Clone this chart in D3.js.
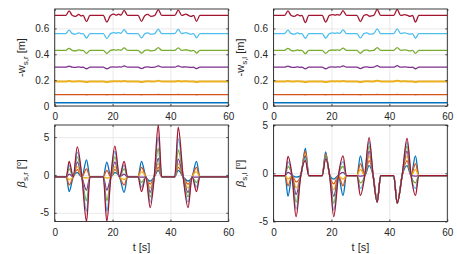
<!DOCTYPE html>
<html>
<head>
<meta charset="utf-8">
<script src="https://cdn.jsdelivr.net/npm/d3@7"></script>
<style>
body { margin: 0; background: #fff; }
text { font-family: "Liberation Sans", Arial, Helvetica, sans-serif; fill: #262626; }
</style>
</head>
<body>
<svg width="457" height="254"></svg>
<script>
// time knots (s) for the deflection panels
var tW = [0, 3.8, 5, 6, 7.2, 8.3, 9.2, 9.8, 11, 12.2, 16.8, 18, 19.3, 20.5, 21.3, 22, 22.9, 24, 25.2, 28.8,
          30, 31.2, 32.2, 33.2, 34.6, 35.8, 37, 41.5, 42.7, 43.9, 45.3, 46.3, 47.2, 48, 49, 50.2, 60];

// -w_s,r [m], one row per shell (blue, orange, yellow, purple, green, light blue, red)
var wsr = [
  [0.025,0.025,0.025,0.025,0.025,0.025,0.025,0.025,0.025,0.025,0.025,0.025,0.025,0.025,0.025,0.025,0.025,0.025,0.025,0.025,0.025,0.025,0.025,0.025,0.025,0.025,0.025,0.025,0.025,0.025,0.025,0.025,0.025,0.025,0.025,0.025,0.025],
  [0.088,0.088,0.088,0.088,0.088,0.088,0.088,0.088,0.087,0.088,0.088,0.087,0.088,0.088,0.088,0.088,0.088,0.089,0.088,0.088,0.087,0.088,0.088,0.088,0.088,0.089,0.088,0.088,0.089,0.088,0.088,0.088,0.088,0.088,0.087,0.088,0.088],
  [.190,.190,.194,.190,.190,.191,.190,.190,.185,.190,.190,.185,.190,.191,.190,.191,.190,.194,.190,.190,.185,.190,.191,.190,.190,.195,.190,.190,.194,.190,.191,.190,.190,.190,.185,.190,.190],
  [.300,.300,.309,.300,.298,.302,.299,.300,.288,.300,.300,.288,.300,.303,.300,.303,.301,.310,.300,.300,.289,.300,.302,.298,.300,.311,.300,.300,.310,.300,.303,.300,.298,.300,.289,.300,.300],
  [.430,.430,.446,.431,.427,.434,.429,.430,.408,.430,.430,.406,.430,.435,.431,.435,.431,.449,.430,.430,.409,.430,.434,.427,.430,.451,.430,.430,.450,.430,.435,.430,.427,.430,.409,.430,.430],
  [.560,.560,.586,.562,.555,.566,.558,.560,.525,.560,.560,.522,.560,.568,.562,.568,.562,.590,.560,.560,.526,.560,.566,.555,.560,.594,.560,.560,.592,.560,.568,.560,.555,.560,.526,.560,.560],
  [.700,.700,.735,.702,.693,.708,.697,.700,.653,.700,.700,.650,.700,.710,.702,.710,.703,.740,.700,.700,.655,.700,.708,.693,.700,.745,.700,.700,.742,.700,.710,.700,.693,.700,.655,.700,.700]
];

// -w_s,l [m]
var wsl = [
  [0.025,0.025,0.025,0.025,0.025,0.025,0.025,0.025,0.025,0.025,0.025,0.025,0.025,0.025,0.025,0.025,0.025,0.025,0.025,0.025,0.025,0.025,0.025,0.025,0.025,0.025,0.025,0.025,0.025,0.025,0.025,0.025,0.025,0.025,0.025,0.025,0.025],
  [0.088,0.088,0.088,0.088,0.088,0.088,0.088,0.088,0.087,0.088,0.088,0.087,0.088,0.088,0.088,0.088,0.088,0.089,0.088,0.088,0.087,0.088,0.088,0.088,0.088,0.089,0.088,0.088,0.089,0.088,0.088,0.088,0.088,0.088,0.087,0.088,0.088],
  [.190,.190,.194,.190,.190,.191,.190,.190,.185,.190,.190,.185,.190,.191,.190,.191,.190,.194,.190,.190,.185,.190,.191,.190,.190,.196,.190,.190,.196,.190,.191,.190,.190,.190,.185,.190,.190],
  [.300,.300,.309,.300,.298,.302,.299,.300,.287,.300,.300,.288,.300,.302,.300,.303,.301,.310,.300,.300,.289,.300,.302,.298,.300,.312,.300,.300,.312,.300,.302,.300,.298,.300,.288,.300,.300],
  [.430,.430,.446,.431,.427,.433,.429,.430,.405,.430,.430,.407,.430,.433,.431,.434,.431,.448,.430,.430,.408,.430,.434,.427,.430,.452,.430,.430,.452,.430,.434,.430,.427,.430,.407,.430,.430],
  [.560,.560,.586,.562,.555,.565,.558,.560,.522,.560,.560,.524,.560,.565,.562,.566,.562,.589,.560,.560,.526,.560,.566,.555,.560,.596,.560,.560,.596,.560,.566,.560,.555,.560,.524,.560,.560],
  [.700,.700,.735,.702,.693,.706,.697,.700,.645,.700,.700,.649,.700,.706,.702,.707,.703,.738,.700,.700,.652,.700,.707,.694,.700,.747,.700,.700,.747,.700,.707,.700,.694,.700,.649,.700,.700]
];

// time knots (s) for the slip angle panels
var tB = [0, 4, 5, 6.4, 7.8, 9.4, 11, 12.2, 16.8, 18, 19.4, 20.8, 22.4, 24, 25.2, 28.8, 30, 31.5, 33, 34.4,
          35.8, 37, 41.5, 42.7, 44.4, 46.1, 47.5, 49, 50.2, 60];

// beta_s,r [deg]
var betaR = [
  [-.25,-.25,-2.2,-.25,0.3,-.25,2.0,-.25,-.25,1.7,-.25,0.3,-.25,-2.3,-.25,-.25,1.8,-.25,-0.8,-.25,0.6,-.25,-.25,0.6,-.25,-0.8,-.25,1.8,-.25,-.25],
  [-.25,-.25,-1.3,-.25,0.7,-.25,0.8,-.25,-.25,0.6,-.25,0.7,-.25,-1.3,-.25,-.25,1.0,-.25,-1.2,-.25,1.0,-.25,-.25,1.0,-.25,-1.2,-.25,1.0,-.25,-.25],
  [-.25,-.25,-0.6,-.25,1.1,-.25,-0.4,-.25,-.25,-0.4,-.25,1.1,-.25,-0.6,-.25,-.25,0.4,-.25,-1.7,-.25,1.5,-.25,-.25,1.5,-.25,-1.7,-.25,0.4,-.25,-.25],
  [-.25,-.25,0.1,-.25,1.7,-.25,-2.0,-.25,-.25,-2.0,-.25,1.7,-.25,0.1,-.25,-.25,-0.3,-.25,-2.3,-.25,2.2,-.25,-.25,2.1,-.25,-2.3,-.25,-0.3,-.25,-.25],
  [-.25,-.25,0.8,-.25,2.4,-.25,-3.4,-.25,-.25,-3.4,-.25,2.4,-.25,0.8,-.25,-.25,-1.0,-.25,-2.9,-.25,3.5,-.25,-.25,3.3,-.25,-2.9,-.25,-1.0,-.25,-.25],
  [-.25,-.25,1.3,-.25,3.0,-.25,-4.8,-.25,-.25,-4.8,-.25,3.1,-.25,1.3,-.25,-.25,-1.6,-.25,-3.6,-.25,5.0,-.25,-.25,4.8,-.25,-3.6,-.25,-1.6,-.25,-.25],
  [-.25,-.25,1.8,-.25,3.7,-.25,-6.15,-.25,-.25,-6.15,-.25,3.8,-.25,1.8,-.25,-.25,-2.2,-.25,-4.3,-.25,6.6,-.25,-.25,6.3,-.25,-4.3,-.25,-2.2,-.25,-.25]
];

// beta_s,l [deg]
var betaL = [
  [-.25,-.25,-2.4,-.25,-0.4,-.25,2.6,-.25,-.25,2.2,-.25,-0.6,-.25,-2.3,-.25,-.25,1.8,-.25,0.8,-.25,-2.9,-.25,-.25,-3.1,-.25,0.8,-.25,1.8,-.25,-.25],
  [-.25,-.25,-1.3,-.25,-0.9,-.25,2.3,-.25,-.25,2.0,-.25,-1.1,-.25,-1.3,-.25,-.25,1.0,-.25,1.3,-.25,-2.9,-.25,-.25,-3.1,-.25,1.3,-.25,1.0,-.25,-.25],
  [-.25,-.25,-0.6,-.25,-1.5,-.25,2.0,-.25,-.25,1.9,-.25,-1.7,-.25,-0.6,-.25,-.25,0.4,-.25,1.8,-.25,-3.0,-.25,-.25,-3.1,-.25,1.8,-.25,0.4,-.25,-.25],
  [-.25,-.25,0.1,-.25,-2.2,-.25,1.8,-.25,-.25,1.8,-.25,-2.4,-.25,0.1,-.25,-.25,-0.3,-.25,2.3,-.25,-3.0,-.25,-.25,-3.1,-.25,2.3,-.25,-0.3,-.25,-.25],
  [-.25,-.25,0.7,-.25,-3.0,-.25,1.6,-.25,-.25,1.7,-.25,-3.1,-.25,0.7,-.25,-.25,-1.0,-.25,2.8,-.25,-3.0,-.25,-.25,-3.1,-.25,2.8,-.25,-1.0,-.25,-.25],
  [-.25,-.25,1.2,-.25,-3.7,-.25,1.45,-.25,-.25,1.6,-.25,-3.8,-.25,1.2,-.25,-.25,-1.6,-.25,3.3,-.25,-3.0,-.25,-.25,-3.1,-.25,3.2,-.25,-1.6,-.25,-.25],
  [-.25,-.25,1.75,-.25,-4.5,-.25,1.3,-.25,-.25,1.5,-.25,-4.5,-.25,1.8,-.25,-.25,-2.3,-.25,3.7,-.25,-3.0,-.25,-.25,-3.1,-.25,3.6,-.25,-2.3,-.25,-.25]
];

var tickX = [0, 20, 40, 60];
var tickW = [0, 0.2, 0.4, 0.6];
var tickBeta = [-5, 0, 5];

var canvas = d3.select("svg");
var colors = ["#0072BD", "#D95319", "#EDB120", "#7E2F8E", "#77AC30", "#4DBEEE", "#A2142F"];
var gridColor = "#e3e3e3";
var axisColor = "#262626";

var colLeft = [54.7, 228.3];
var colRight = [273.5, 447.3];
var rowTop = [9, 106];
var rowBottom = [125, 221.5];

var panels = [
    { id: "a", xr: colLeft, yr: rowTop, t: tW, data: wsr, yDom: [0, 0.75], ticks: tickW, label: ["-w", "s,r", " [m]"], greek: false, xLabel: false },
    { id: "b", xr: colRight, yr: rowTop, t: tW, data: wsl, yDom: [0, 0.75], ticks: tickW, label: ["-w", "s,l", " [m]"], greek: false, xLabel: false },
    { id: "c", xr: colLeft, yr: rowBottom, t: tB, data: betaR, yDom: [-6.15, 6.6], ticks: tickBeta, label: ["\u03b2", "s,r", " ["], greek: true, xLabel: true },
    { id: "d", xr: colRight, yr: rowBottom, t: tB, data: betaL, yDom: [-5, 5], ticks: tickBeta, label: ["\u03b2", "s,l", " ["], greek: true, xLabel: true }
];

var defs = canvas.append("defs");

panels.forEach(function (p) {
    var xScale = d3.scaleLinear().domain([0, 60]).range(p.xr);
    var yScale = d3.scaleLinear().domain(p.yDom).range([p.yr[1], p.yr[0]]);
    var w = p.xr[1] - p.xr[0];
    var h = p.yr[1] - p.yr[0];

    defs.append("clipPath").attr("id", "clip" + p.id)
        .append("rect")
        .attr("x", p.xr[0]).attr("y", p.yr[0])
        .attr("width", w).attr("height", h);

    var g = canvas.append("g");

    // grid
    g.append("g")
        .attr("transform", `translate(0,${p.yr[1]})`)
        .call(d3.axisBottom(xScale).tickValues(tickX).tickSize(-h).tickFormat(""))
        .call(s => s.select(".domain").remove())
        .selectAll("line").attr("stroke", gridColor).attr("stroke-width", 0.8);
    g.append("g")
        .attr("transform", `translate(${p.xr[0]},0)`)
        .call(d3.axisLeft(yScale).tickValues(p.ticks).tickSize(-w).tickFormat(""))
        .call(s => s.select(".domain").remove())
        .selectAll("line").attr("stroke", gridColor).attr("stroke-width", 0.8);

    // lines
    var line = d3.line()
        .x((d, i) => xScale(p.t[i]))
        .y(d => yScale(d))
        .curve(d3.curveMonotoneX);

    g.append("g")
        .attr("clip-path", `url(#clip${p.id})`)
        .selectAll("path")
        .data(p.data)
        .enter()
        .append("path")
        .attr("d", line)
        .attr("fill", "none")
        .attr("stroke", (d, i) => colors[i])
        .attr("stroke-width", (d, i) => i == 2 && !p.greek ? 2 : 1.3)
        .attr("stroke-linejoin", "round");

    // axes (ticks inward, mirrored on top/right)
    var ax = g.append("g").attr("transform", `translate(0,${p.yr[1]})`)
        .call(d3.axisBottom(xScale).tickValues(tickX).tickSize(-2).tickPadding(7).tickFormat(d => String(d)));
    var ay = g.append("g").attr("transform", `translate(${p.xr[0]},0)`)
        .call(d3.axisLeft(yScale).tickValues(p.ticks).tickSize(-2).tickPadding(5.5).tickFormat(d => String(d)));
    var axt = g.append("g").attr("transform", `translate(0,${p.yr[0]})`)
        .call(d3.axisTop(xScale).tickValues(tickX).tickSize(-2).tickFormat(""));
    var ayr = g.append("g").attr("transform", `translate(${p.xr[1]},0)`)
        .call(d3.axisRight(yScale).tickValues(p.ticks).tickSize(-2).tickFormat(""));

    [ax, ay, axt, ayr].forEach(function (a) {
        a.selectAll(".domain").attr("stroke", "none");
        a.selectAll("line").attr("stroke", axisColor).attr("stroke-width", 0.8);
        a.selectAll("text").style("font-size", "10px").style("fill", axisColor)
            .style("font-family", "'Liberation Sans', Arial, Helvetica, sans-serif");
    });

    g.append("rect")
        .attr("x", p.xr[0]).attr("y", p.yr[0])
        .attr("width", w).attr("height", h)
        .attr("fill", "none")
        .attr("stroke", axisColor)
        .attr("stroke-width", 0.9);

    // y label
    var lx = p.xr[0] - 29.5;
    var ly = (p.yr[0] + p.yr[1]) / 2;
    var lab = g.append("text")
        .attr("transform", `translate(${lx},${ly}) rotate(-90)`)
        .attr("text-anchor", "middle")
        .style("font-size", "11px");
    lab.append("tspan").text(p.label[0]).style("font-style", p.greek ? "italic" : "normal");
    lab.append("tspan").text(p.label[1]).attr("dy", 3).style("font-size", "8px");
    lab.append("tspan").text(p.label[2]).attr("dy", -3);
    if (p.greek) {
        lab.append("tspan").text("o").attr("dy", -4).style("font-size", "7px");
        lab.append("tspan").text("]").attr("dy", 4);
    }

    if (p.xLabel) {
        g.append("text")
            .attr("x", (p.xr[0] + p.xr[1]) / 2)
            .attr("y", 251)
            .attr("text-anchor", "middle")
            .style("font-size", "11px")
            .text("t [s]");
    }
});
</script>
</body>
</html>
